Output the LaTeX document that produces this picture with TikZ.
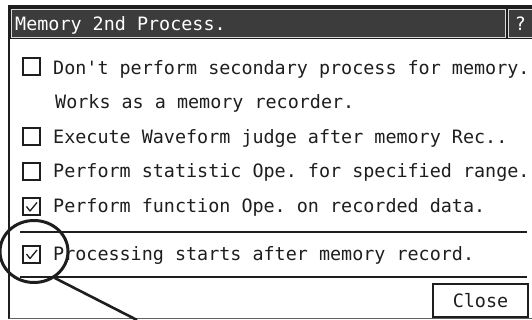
\documentclass[tikz,border=0pt]{standalone}
\usepackage{fontspec}
\setmonofont{DejaVu Sans Mono}
\usetikzlibrary{shapes.geometric}
\definecolor{ink}{HTML}{1E1E1E}
\definecolor{barfill}{HTML}{3C3C3C}
\tikzset{
  lbl/.style={font=\ttfamily\fontsize{18.4}{20}\selectfont, text=ink, anchor=base west, inner sep=0pt},
  ttl/.style={font=\ttfamily\fontsize{18.4}{20}\selectfont, text=white, anchor=base west, inner sep=0pt},
  cbox/.style={draw=ink, line width=2pt, minimum width=17pt, minimum height=17pt, inner sep=0pt},
  sepline/.style={draw=ink, line width=2.2pt},
  chk/.style={draw=ink, line width=1.3pt, line join=round}
}
\begin{document}
\begin{tikzpicture}[x=1pt,y=-1pt]
\useasboundingbox (0,0) rectangle (532,320);
% title bar
\fill[ink] (8,5.5) rectangle (532,39.5);
\fill[barfill] (11.5,9) rectangle (505,37);
\draw[white!85!black, line width=0.8pt] (11.5,9) rectangle (505,37);
\fill[barfill] (508.5,9) rectangle (532,37);
\draw[white!85!black, line width=0.8pt] (508.5,9) rectangle (533,37);
\node[ttl] (title) at (15,31) {Memory 2nd Process.};
\node[font=\ttfamily\fontsize{18.4}{20}\selectfont, text=white, inner sep=0pt] (help) at (520.5,23.5) {?};
% window border
\draw[ink, line width=2.8pt] (9,39) -- (9,318.5);
\draw[ink!70, line width=1.6pt] (9,318.5) -- (532,318.5);
% checkboxes
\node[cbox] (c1) at (31.5,67) {};
\node[cbox] (c2) at (31.5,137) {};
\node[cbox] (c3) at (31.5,172) {};
\node[cbox] (c4) at (31.5,206.5) {};
\node[cbox] (c5) at (31.5,254) {};
\draw[chk] ([shift={(-5,0)}]c4.center) -- ([shift={(-1.5,4.5)}]c4.center) -- ([shift={(5.5,-4)}]c4.center);
\draw[chk] ([shift={(-5,0)}]c5.center) -- ([shift={(-1.5,4.5)}]c5.center) -- ([shift={(5.5,-4)}]c5.center);
% labels
\node[lbl] (t1) at (53,75) {Don't perform secondary process for memory.};
\node[lbl] (t1b) at (55,108.5) {Works as a memory recorder.};
\node[lbl] (t2) at (53,143.5) {Execute Waveform judge after memory Rec..};
\node[lbl] (t3) at (53,178) {Perform statistic Ope. for specified range.};
\node[lbl] (t4) at (53,212.5) {Perform function Ope. on recorded data.};
\node[lbl] (t5) at (53,260.5) {Processing starts after memory record.};
% separators
\draw[sepline] (20,232) -- (527,232);
\draw[sepline] (20,277) -- (527,277);
% close button
\node[draw=ink, line width=2pt, minimum width=95pt, minimum height=33pt, inner sep=0pt,
      font=\ttfamily\fontsize{18.4}{20}\selectfont, text=ink] (close) at (480.5,300.5) {Close};
% highlight circle and leader
\node[ellipse, draw=ink, line width=3pt, minimum width=68pt, minimum height=62pt, inner sep=0pt] (circ) at (34,251.5) {};
\coordinate (lead) at (137,320);
\draw[ink, line width=2.6pt] (circ.-52) -- (lead);
\end{tikzpicture}
\end{document}
